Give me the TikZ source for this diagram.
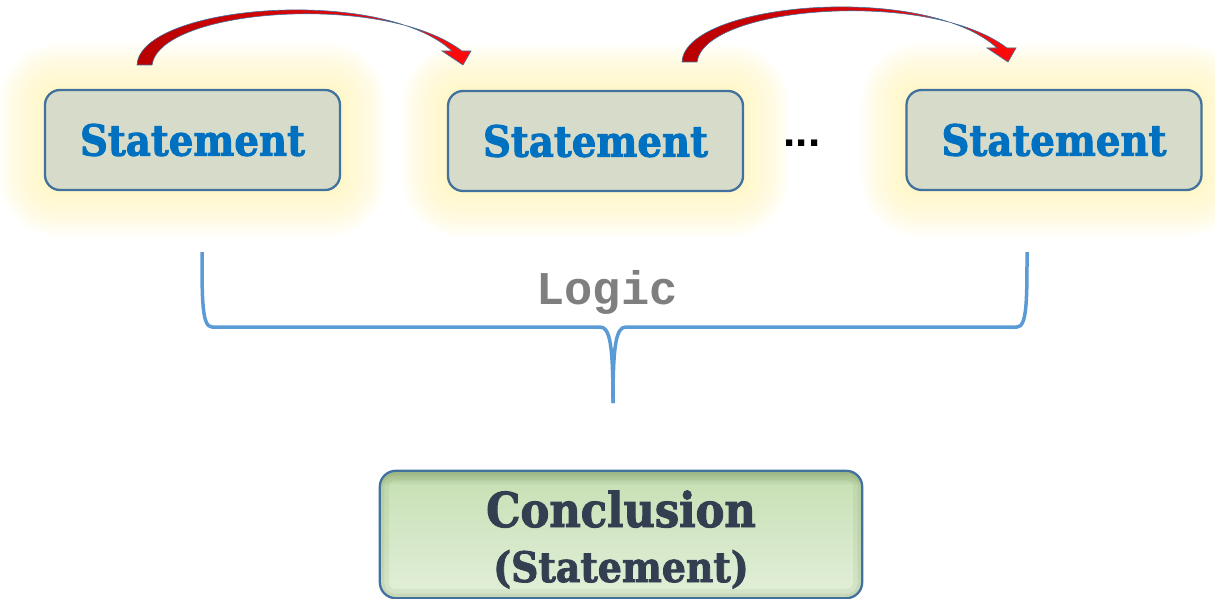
\documentclass[tikz,border=0pt]{standalone}
\usepackage{fontspec}
\newfontfamily\stfont[FakeStretch=0.9, BoldFeatures={FakeBold=2}]{DejaVu Serif}
\newfontfamily\logicfont{Liberation Mono}
\newfontfamily\dotfont{Liberation Sans}
\usetikzlibrary{backgrounds}

\definecolor{boxfill}{HTML}{D6DCC9}
\definecolor{boxline}{HTML}{41719C}
\definecolor{stblue}{HTML}{0070C0}
\definecolor{glowy}{HTML}{FFF4B5}
\definecolor{bracecol}{HTML}{5B9BD5}
\definecolor{logicgray}{HTML}{7F7F7F}
\definecolor{conctext}{HTML}{333F50}
\definecolor{conctop}{HTML}{C6DFB3}
\definecolor{concbot}{HTML}{E2EFD9}
\definecolor{concshade}{HTML}{7E9C62}
\definecolor{arrdark}{HTML}{B80000}
\definecolor{arrbright}{HTML}{FF0A0A}

\tikzset{
  stmt/.style={draw=boxline, line width=2.3pt, fill=boxfill, rounded corners=15pt,
    minimum width=295pt, minimum height=100pt, inner sep=0pt,
    text=stblue, font=\stfont\bfseries\fontsize{43}{50}\selectfont},
  concbox/.style={rounded corners=16pt, minimum width=482pt, minimum height=127pt,
    inner sep=0pt, top color=conctop, bottom color=concbot},
  rimshade/.style={concshade, rounded corners=16pt},
  glowlayer/.style={fill=glowy, fill opacity=0.075},
  arrowbody/.style={left color=arrdark, right color=arrbright, draw=boxline, line width=0.6pt, line join=miter},
  bracket/.style={draw=bracecol, line width=3.5pt, line join=round},
  bendarrow/.pic={
    \path[arrowbody] (0,0) .. controls (3,-60) and (243,-80) .. (315,-14)
      -- (305,-14) -- (326,0) -- (334,-14) -- (325,-14)
      .. controls (248,-73) and (23,-57) .. (15,0) -- cycle;
  }
}

\begin{document}
\begin{tikzpicture}[x=1pt, y=-1pt]
  \useasboundingbox (0,0) rectangle (1215,599);

  % premise boxes
  \node[stmt] (s1) at (192.5,140) {Statement};
  \node[stmt] (s2) at (595.5,141) {Statement};
  \node[stmt] (s3) at (1054,140) {Statement};
  \node[font=\dotfont\bfseries\fontsize{44}{44}\selectfont] (dots) at (802,143) {...};

  % soft yellow halo behind each premise
  \begin{scope}[on background layer]
    \foreach \n in {s1,s2,s3}{
      \foreach \r in {3,6,...,45}{
        \path[glowlayer, rounded corners={15pt+\r pt}]
          ([shift={(-\r pt,-\r pt)}]\n.south west) rectangle ([shift={(\r pt,\r pt)}]\n.north east);
      }
    }
  \end{scope}

  % curved arrows between consecutive statements
  \pic at (137,65) {bendarrow};
  \pic at (682,62) {bendarrow};

  % brace gathering the premises
  \coordinate (bl) at (202,252);
  \coordinate (br) at (1027,252);
  \coordinate (bt) at (613,403);
  \path[bracket] (bl) .. controls (202,300) and (202,327) .. (212,327) -- (600,327)
    .. controls (610,327) and (613,345) .. (bt);
  \path[bracket] (br) .. controls (1027,300) and (1027,327) .. (1017,327) -- (626,327)
    .. controls (616,327) and (613,345) .. (bt);

  \node[text=logicgray, font=\logicfont\bfseries\fontsize{47}{50}\selectfont] (logic) at (607,292) {Logic};

  % conclusion box with an inner shadow along its rim
  \node[concbox] (conc) at (621,534.5) {};
  \begin{scope}
    \clip[rounded corners=16pt] (conc.south west) rectangle (conc.north east);
    \draw[rimshade, opacity=0.12, line width=18pt] (conc.south west) rectangle (conc.north east);
    \draw[rimshade, opacity=0.15, line width=9pt] (conc.south west) rectangle (conc.north east);
    \foreach \k in {2,4,...,14}{
      \fill[concshade, opacity=0.07] (conc.north west) rectangle ([yshift=-\k pt]conc.north east);
    }
  \end{scope}
  \draw[boxline, line width=2.3pt, rounded corners=16pt] (conc.south west) rectangle (conc.north east);
  \node[text=conctext, font=\stfont\bfseries\fontsize{48}{50}\selectfont, anchor=base] (ctitle) at (621,527) {Conclusion};
  \node[text=conctext, font=\stfont\bfseries\fontsize{42}{50}\selectfont, anchor=base] (csub) at (621,582) {(Statement)};
\end{tikzpicture}
\end{document}
